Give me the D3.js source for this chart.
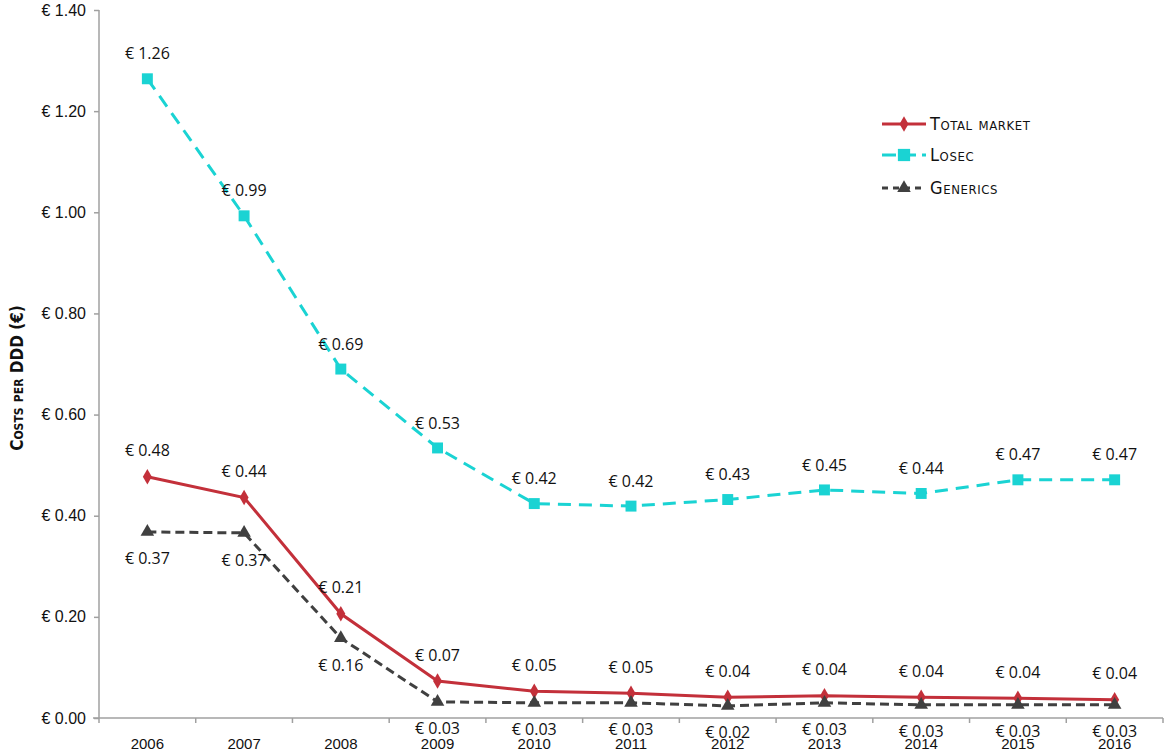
<!DOCTYPE html>
<html>
<head>
<meta charset="utf-8">
<script src="https://cdn.jsdelivr.net/npm/d3@7"></script>
<style>
  body { margin: 0; background: #fff; }
  svg { font-family: "Open Sans", "Noto Sans", sans-serif; }
</style>
</head>
<body>
<script>
// data
var years = ["2006", "2007", "2008", "2009", "2010", "2011", "2012", "2013", "2014", "2015", "2016"];
var totalMarket = [0.477, 0.436, 0.206, 0.073, 0.053, 0.049, 0.041, 0.044, 0.041, 0.039, 0.036];
var losec = [1.264, 0.993, 0.690, 0.534, 0.424, 0.419, 0.432, 0.451, 0.444, 0.471, 0.471];
var generics = [0.368, 0.366, 0.158, 0.032, 0.030, 0.030, 0.024, 0.030, 0.026, 0.026, 0.026];
var yTicks = [0, 0.2, 0.4, 0.6, 0.8, 1.0, 1.2, 1.4];

var width = 1168;
var height = 755;
var plotLeft = 99, plotRight = 1163, plotTop = 10, plotBottom = 718;

var svg = d3.select("body").append("svg")
    .attr("width", width)
    .attr("height", height);

var x = d3.scaleBand().domain(years).range([plotLeft, plotRight]).padding(0);
var y = d3.scaleLinear().domain([0, 1.4]).range([plotBottom, plotTop]);

var cx = function(d, i) { return x(years[i]) + x.bandwidth() / 2; };

// y axis
var yAxis = svg.append("g")
    .attr("transform", "translate(" + plotLeft + ",0)")
    .call(d3.axisLeft(y).tickValues(yTicks).tickSize(5).tickPadding(8)
      .tickFormat(function(d) { return "€ " + d.toFixed(2); }));
yAxis.selectAll("path, line").attr("stroke", "#a0a0a0").attr("stroke-width", 1.5);
yAxis.select(".domain").attr("d", "M0," + plotTop + "V" + plotBottom);
yAxis.selectAll("text").attr("fill", "#111").style("font-size", "16px");

// x axis with ticks at category boundaries
var xAxis = svg.append("g")
    .attr("transform", "translate(0," + plotBottom + ")")
    .call(d3.axisBottom(x).tickSize(0).tickPadding(20));
xAxis.select(".domain").attr("stroke", "#a0a0a0").attr("stroke-width", 1.5)
    .attr("d", "M" + (plotLeft - 6) + ",0H" + plotRight);
xAxis.selectAll("text").attr("fill", "#111").style("font-size", "15px");

var bounds = years.map(function(d) { return x(d); }).concat([plotRight]);
svg.append("g").selectAll("line")
  .data(bounds)
  .enter().append("line")
    .attr("x1", function(d) { return d; })
    .attr("x2", function(d) { return d; })
    .attr("y1", plotBottom)
    .attr("y2", plotBottom + 5)
    .attr("stroke", "#a0a0a0")
    .attr("stroke-width", 1.5);

// y axis title
svg.append("text")
    .attr("transform", "translate(23,378) rotate(-90)")
    .attr("text-anchor", "middle")
    .style("font-size", "17px")
    .style("font-weight", "bold")
    .style("font-variant", "small-caps")
    .style("font-family", "'DejaVu Sans Condensed', 'Open Sans', sans-serif")
    .attr("fill", "#111")
    .text("Costs per DDD (€)");

var line = d3.line()
    .x(cx)
    .y(function(d) { return y(d); });

var series = [
  { name: "Total market", values: totalMarket, color: "#c3303a", dash: null, shape: d3.symbolDiamond, size: 70, labelDy: -26 },
  { name: "Losec", values: losec, color: "#1ad3d3", dash: "13,8", shape: d3.symbolSquare, size: 120, labelDy: -25 },
  { name: "Generics", values: generics, color: "#404040", dash: "9,5", shape: d3.symbolTriangle, size: 80, labelDy: 27 }
];

series.forEach(function(s) {
  svg.append("path")
      .datum(s.values)
      .attr("d", line)
      .attr("fill", "none")
      .attr("stroke", s.color)
      .attr("stroke-width", 3)
      .attr("stroke-dasharray", s.dash);

  svg.append("g").selectAll("path")
    .data(s.values)
    .enter().append("path")
      .attr("d", d3.symbol().type(s.shape).size(s.size))
      .attr("transform", function(d, i) { return "translate(" + cx(d, i) + "," + y(d) + ")"; })
      .attr("fill", s.color);

  svg.append("g").selectAll("text")
    .data(s.values)
    .enter().append("text")
      .attr("x", cx)
      .attr("y", function(d) { return y(d) + s.labelDy; })
      .attr("dy", "0.35em")
      .attr("text-anchor", "middle")
      .style("font-size", "16px")
      .attr("fill", "#111")
      .text(function(d) { return "€ " + d.toFixed(2); });
});

// legend
var legend = svg.append("g").attr("transform", "translate(882,124)");
series.forEach(function(s, i) {
  var g = legend.append("g").attr("transform", "translate(0," + [0, 31, 64][i] + ")");
  g.append("line")
      .attr("x1", 0).attr("x2", 44)
      .attr("stroke", s.color)
      .attr("stroke-width", 3)
      .attr("stroke-dasharray", s.dash ? (i === 1 ? "14,6" : "6,5") : null);
  g.append("path")
      .attr("d", d3.symbol().type(s.shape).size(i === 1 ? 150 : s.size))
      .attr("transform", "translate(22,0)")
      .attr("fill", s.color);
  g.append("text")
      .attr("x", 48)
      .attr("dy", "0.35em")
      .style("font-size", "18px")
      .style("letter-spacing", "0.6px")
      .style("font-variant", "small-caps")
      .style("font-family", "'DejaVu Sans Condensed', 'Liberation Sans Narrow', sans-serif")
      .attr("fill", "#111")
      .text(s.name);
});
</script>
</body>
</html>
